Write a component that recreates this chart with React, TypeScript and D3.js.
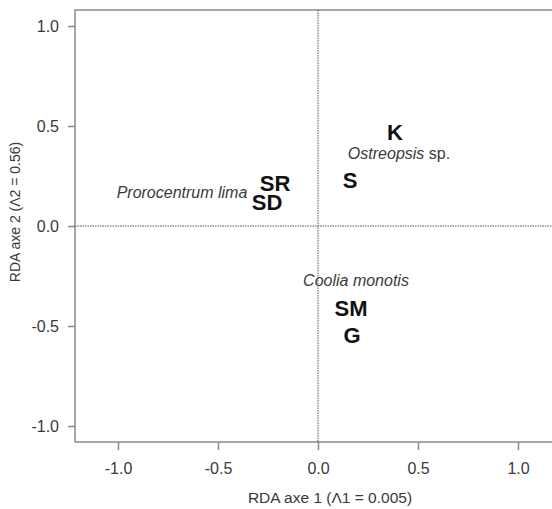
import React, { useEffect, useRef } from "react";
import * as d3 from "d3";

// ── Data ──────────────────────────────────────────────────────────────────────

const siteLabels = ["K", "S", "SR", "SD", "SM", "G"];
const siteX = [0.385, 0.16, -0.215, -0.255, 0.165, 0.17];
const siteY = [0.47, 0.23, 0.215, 0.12, -0.41, -0.545];

const speciesNames = ["Ostreopsis", "Prorocentrum lima", "Coolia monotis"];
const speciesSuffix = [" sp.", "", ""];
const speciesX = [0.405, -0.68, 0.19];
const speciesY = [0.365, 0.17, -0.27];

const xTicks = [-1.0, -0.5, 0.0, 0.5, 1.0];
const yTicks = [-1.0, -0.5, 0.0, 0.5, 1.0];

const xTitle = "RDA axe 1 (Λ1 = 0.005)";
const yTitle = "RDA axe 2 (Λ2 = 0.56)";

// ── Layout ────────────────────────────────────────────────────────────────────

const W = 552;
const H = 509;
const FONT = "'Liberation Sans', Arial, sans-serif";
const AXIS = "#8a8a8a";
const TEXT = "#3a3a3a";

function renderChart(svgEl: SVGSVGElement) {
  const svg = d3.select(svgEl);
  svg.selectAll("*").remove();

  const x = d3.scaleLinear().domain([-1.215, 1.335]).range([75, 585]);
  const y = d3.scaleLinear().domain([-1.08, 1.08]).range([442, 10]);

  const [x0, x1] = x.range();
  const [y0, y1] = y.range();

  // frame (right side runs off the canvas)
  svg
    .append("rect")
    .attr("x", x0)
    .attr("y", y1)
    .attr("width", x1 - x0)
    .attr("height", y0 - y1)
    .attr("fill", "none")
    .attr("stroke", AXIS)
    .attr("stroke-width", 1.5);

  // zero lines
  svg
    .append("line")
    .attr("x1", x0)
    .attr("x2", x1)
    .attr("y1", y(0))
    .attr("y2", y(0))
    .attr("stroke", "#555")
    .attr("stroke-width", 1)
    .attr("stroke-dasharray", "1.5,1");
  svg
    .append("line")
    .attr("x1", x(0))
    .attr("x2", x(0))
    .attr("y1", y1)
    .attr("y2", y0)
    .attr("stroke", "#555")
    .attr("stroke-width", 1)
    .attr("stroke-dasharray", "1.5,1");

  const fmt = (v: d3.NumberValue) => Number(v).toFixed(1);

  // x axis
  svg
    .append("g")
    .attr("transform", `translate(0,${y0})`)
    .call(d3.axisBottom(x).tickValues(xTicks).tickSize(8).tickPadding(13).tickFormat(fmt))
    .call((ax) => ax.select(".domain").remove())
    .call((ax) => ax.selectAll(".tick line").attr("stroke", AXIS).attr("stroke-width", 1.5))
    .call((ax) =>
      ax
        .selectAll(".tick text")
        .attr("font-size", 16)
        .attr("font-family", FONT)
        .attr("fill", TEXT)
    );

  // y axis
  svg
    .append("g")
    .attr("transform", `translate(${x0},0)`)
    .call(d3.axisLeft(y).tickValues(yTicks).tickSize(7).tickPadding(9).tickFormat(fmt))
    .call((ax) => ax.select(".domain").remove())
    .call((ax) => ax.selectAll(".tick line").attr("stroke", AXIS).attr("stroke-width", 1.5))
    .call((ax) =>
      ax
        .selectAll(".tick text")
        .attr("font-size", 16)
        .attr("font-family", FONT)
        .attr("fill", TEXT)
    );

  // axis titles
  svg
    .append("text")
    .attr("x", 330)
    .attr("y", 503)
    .attr("text-anchor", "middle")
    .attr("font-size", 15.5)
    .attr("font-family", FONT)
    .attr("fill", TEXT)
    .text(xTitle);
  svg
    .append("text")
    .attr("transform", `translate(20,212) rotate(-90)`)
    .attr("text-anchor", "middle")
    .attr("font-size", 14)
    .attr("font-family", FONT)
    .attr("fill", TEXT)
    .text(yTitle);

  // species (italic)
  speciesNames.forEach((name, i) => {
    const t = svg
      .append("text")
      .attr("x", x(speciesX[i]))
      .attr("y", y(speciesY[i]))
      .attr("dy", "0.35em")
      .attr("text-anchor", "middle")
      .attr("font-size", 16)
      .attr("font-family", FONT)
      .attr("fill", TEXT);
    t.append("tspan").attr("font-style", "italic").text(name);
    if (speciesSuffix[i]) t.append("tspan").text(speciesSuffix[i]);
  });

  // sites (bold)
  siteLabels.forEach((label, i) => {
    svg
      .append("text")
      .attr("x", x(siteX[i]))
      .attr("y", y(siteY[i]))
      .attr("dy", "0.36em")
      .attr("text-anchor", "middle")
      .attr("font-size", 22)
      .attr("font-weight", "bold")
      .attr("font-family", FONT)
      .attr("fill", "#111")
      .text(label);
  });
}

export default function App() {
  const svgRef = useRef<SVGSVGElement>(null);

  useEffect(() => {
    if (svgRef.current) renderChart(svgRef.current);
  }, []);

  return (
    <svg
      ref={svgRef}
      width={W}
      height={H}
      style={{ position: "absolute", left: 0, top: 0, background: "#fff", overflow: "hidden" }}
    />
  );
}
